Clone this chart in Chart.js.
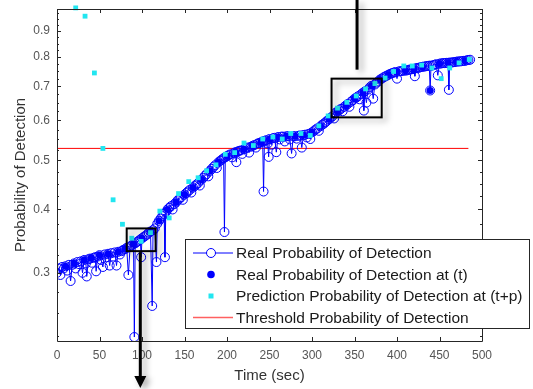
<!DOCTYPE html>
<html>
<head>
<meta charset="utf-8">
<script src="https://cdn.jsdelivr.net/npm/chart.js@4.4.1/dist/chart.umd.min.js"></script>
<style>
  body { margin: 0; background: #fff; }
  #wrap { width: 533px; height: 389px; }
</style>
</head>
<body>
<div id="wrap"><canvas id="myChart" width="533" height="389"></canvas></div>
<script>
// Real probability of detection (open circles joined by a line)
const realTime = [0,2,4,6,8,10,12,14,16,18,20,22,24,26,28,30,32,34,35,37,39,41,43,45,46,48,50,52,54,56,58,60,62,64,66,68,70,72,74,76,78,80,82,84,86,88,90,91,92,94,96,98,99,100,102,104,106,108,110,112,113,115,117,118,120,122,124,126,127,128,130,132,134,136,138,140,142,144,146,148,150,152,154,156,158,160,162,164,166,168,170,172,174,176,178,180,182,184,186,188,190,192,194,196,197,198,200,202,204,206,208,210,211,212,214,216,218,220,222,224,226,228,230,232,234,236,238,240,242,243,244,246,248,249,250,252,254,256,258,260,262,264,266,268,270,272,274,276,278,280,282,284,286,288,290,292,294,296,298,300,302,304,306,308,310,312,314,316,318,320,322,324,326,328,330,332,334,336,338,340,342,344,346,348,350,352,354,356,358,360,361,362,364,366,368,370,372,374,376,378,380,382,384,386,388,390,392,394,396,398,400,402,404,406,408,410,412,414,416,418,420,421,422,424,426,428,430,432,434,436,438,439,440,442,444,446,448,450,452,454,456,458,460,461,462,464,466,468,470,472,474,476,478,480,482,484,486];
const realProb = [0.300,0.306,0.297,0.308,0.306,0.309,0.303,0.311,0.289,0.311,0.313,0.306,0.315,0.312,0.316,0.300,0.318,0.313,0.295,0.319,0.320,0.314,0.321,0.322,0.302,0.323,0.325,0.318,0.308,0.326,0.322,0.327,0.310,0.328,0.323,0.329,0.310,0.330,0.326,0.331,0.333,0.334,0.336,0.297,0.338,0.340,0.342,0.224,0.343,0.345,0.347,0.349,0.322,0.351,0.353,0.355,0.357,0.360,0.362,0.258,0.364,0.367,0.315,0.375,0.380,0.384,0.388,0.392,0.322,0.395,0.400,0.403,0.406,0.400,0.410,0.413,0.417,0.420,0.423,0.418,0.428,0.431,0.434,0.437,0.432,0.442,0.445,0.448,0.451,0.446,0.458,0.462,0.466,0.470,0.465,0.477,0.481,0.485,0.489,0.483,0.496,0.499,0.502,0.505,0.361,0.507,0.510,0.512,0.514,0.507,0.517,0.519,0.496,0.520,0.522,0.523,0.515,0.526,0.528,0.530,0.518,0.532,0.534,0.536,0.530,0.540,0.541,0.543,0.545,0.434,0.546,0.548,0.540,0.508,0.551,0.537,0.553,0.554,0.519,0.556,0.550,0.557,0.557,0.545,0.558,0.558,0.550,0.516,0.558,0.558,0.552,0.559,0.560,0.530,0.561,0.562,0.555,0.564,0.551,0.568,0.571,0.575,0.578,0.572,0.584,0.588,0.591,0.595,0.599,0.603,0.607,0.611,0.605,0.621,0.625,0.628,0.632,0.625,0.638,0.642,0.646,0.638,0.653,0.657,0.662,0.665,0.669,0.660,0.676,0.680,0.627,0.684,0.650,0.690,0.697,0.702,0.662,0.706,0.712,0.716,0.722,0.725,0.729,0.732,0.735,0.738,0.741,0.743,0.745,0.747,0.725,0.749,0.750,0.751,0.752,0.752,0.753,0.755,0.756,0.757,0.758,0.733,0.760,0.761,0.762,0.764,0.765,0.766,0.767,0.768,0.769,0.687,0.769,0.770,0.772,0.774,0.736,0.776,0.777,0.778,0.778,0.779,0.779,0.689,0.780,0.780,0.781,0.782,0.783,0.784,0.784,0.785,0.786,0.786,0.788,0.789,0.790];

// Real probability of detection at (t) (filled dots)
const atTime = [10,20,32,40,50,60,72,80,90,100,110,120,130,140,150,160,170,180,190,200,210,220,230,240,250,260,270,280,290,300,310,320,330,340,350,360,370,380,390,400,410,420,430,439,450,460,470,480];
const atProb = [0.309,0.313,0.318,0.321,0.325,0.327,0.330,0.334,0.342,0.351,0.362,0.380,0.400,0.413,0.428,0.442,0.458,0.477,0.496,0.510,0.519,0.526,0.534,0.543,0.551,0.556,0.558,0.558,0.561,0.568,0.584,0.603,0.625,0.642,0.662,0.680,0.702,0.722,0.738,0.748,0.752,0.758,0.765,0.687,0.776,0.779,0.783,0.786];

// Prediction at (t+p) (cyan squares)
const predTime = [22,33,44,54,66,77,88,99,110,121,132,143,155,166,176,187,198,209,220,231,242,254,265,275,287,298,308,319,330,341,352,363,374,386,396,408,418,429,441,452,462,473,485];
const predProb = [1.0,0.963,0.744,0.528,0.418,0.374,0.351,0.346,0.360,0.397,0.385,0.430,0.454,0.462,0.477,0.490,0.514,0.518,0.541,0.535,0.551,0.556,0.551,0.565,0.565,0.560,0.585,0.612,0.634,0.651,0.670,0.692,0.709,0.727,0.749,0.768,0.768,0.771,0.761,0.725,0.761,0.779,0.791];

// Threshold
const thrTime = [0, 484];
const thrProb = [0.528, 0.528];

// axis ticks
const xTicks = [0,50,100,150,200,250,300,350,400,450,500];
const yTicks = [0.3,0.4,0.5,0.6,0.7,0.8,0.9];
const yMinor = [0.225,0.25,0.275,0.325,0.35,0.375,0.425,0.45,0.475,0.525,0.55,0.575,0.625,0.65,0.675,0.725,0.75,0.775,0.825,0.85,0.875,0.925,0.95,0.975];

const BLUE = '#0000ff';
const CYAN = '#22e6f0';
const RED = '#ff0000';
const FONT = "'Liberation Sans', Arial, sans-serif";

function pts(xs, ys) {
    return xs.map((t, i) => ({ x: t, y: ys[i] }));
}

// MATLAB-like box with inward ticks on all four sides
const framePlugin = {
    id: 'frame',
    afterDatasetsDraw(chart) {
        const { ctx, chartArea: a, scales } = chart;
        const x = scales.x, y = scales.y;
        ctx.save();
        ctx.strokeStyle = '#262626';
        ctx.lineWidth = 1;
        ctx.beginPath();
        ctx.rect(a.left + 0.5, a.top + 0.5, a.right - a.left, a.bottom - a.top);
        xTicks.forEach(v => {
            const px = Math.round(x.getPixelForValue(v)) + 0.5;
            ctx.moveTo(px, a.bottom); ctx.lineTo(px, a.bottom - 4);
            ctx.moveTo(px, a.top); ctx.lineTo(px, a.top + 4);
        });
        yTicks.forEach(v => {
            const py = Math.round(y.getPixelForValue(v)) + 0.5;
            ctx.moveTo(a.left, py); ctx.lineTo(a.left + 4, py);
            ctx.moveTo(a.right, py); ctx.lineTo(a.right - 4, py);
        });
        yMinor.forEach(v => {
            const py = Math.round(y.getPixelForValue(v)) + 0.5;
            ctx.moveTo(a.left, py); ctx.lineTo(a.left + 2, py);
            ctx.moveTo(a.right, py); ctx.lineTo(a.right - 2, py);
        });
        ctx.stroke();
        ctx.restore();
    }
};

// zoom boxes and arrows drawn on the figure
const notesPlugin = {
    id: 'notes',
    afterDraw(chart) {
        const { ctx, chartArea: a, scales } = chart;
        const x = scales.x, y = scales.y;
        ctx.save();
        ctx.shadowColor = 'rgba(0,0,0,0.35)';
        ctx.shadowBlur = 6;
        ctx.shadowOffsetX = 4;
        ctx.shadowOffsetY = 3;
        ctx.strokeStyle = '#000';
        ctx.fillStyle = '#000';

        // lower box and arrow going down
        const b1l = x.getPixelForValue(82), b1r = x.getPixelForValue(116);
        const b1t = y.getPixelForValue(0.367), b1b = y.getPixelForValue(0.331);
        ctx.lineWidth = 2;
        ctx.strokeRect(b1l, b1t, b1r - b1l, b1b - b1t);
        const ax = x.getPixelForValue(98);
        ctx.lineWidth = 3;
        ctx.beginPath();
        ctx.moveTo(ax, b1b + 1);
        ctx.lineTo(ax, a.bottom + 36);
        ctx.stroke();
        ctx.beginPath();
        ctx.moveTo(ax - 6, a.bottom + 35);
        ctx.lineTo(ax + 6, a.bottom + 35);
        ctx.lineTo(ax, a.bottom + 47);
        ctx.closePath();
        ctx.fill();

        // upper box and line going up
        const b2l = x.getPixelForValue(323), b2r = x.getPixelForValue(382);
        const b2t = y.getPixelForValue(0.725), b2b = y.getPixelForValue(0.608);
        ctx.lineWidth = 2;
        ctx.strokeRect(b2l, b2t, b2r - b2l, b2b - b2t);
        const tx = x.getPixelForValue(353);
        ctx.lineWidth = 3;
        ctx.beginPath();
        ctx.moveTo(tx, 0);
        ctx.lineTo(tx, b2t - 9);
        ctx.stroke();
        ctx.restore();
    }
};

// legend box in the lower right corner
const legendPlugin = {
    id: 'boxLegend',
    afterDraw(chart) {
        const { ctx } = chart;
        const ds = chart.data.datasets;
        const L = 185, T = 239, W = 344, H = 89;
        ctx.save();
        ctx.fillStyle = '#fff';
        ctx.fillRect(L, T, W, H);
        ctx.strokeStyle = '#262626';
        ctx.lineWidth = 1;
        ctx.strokeRect(L + 0.5, T + 0.5, W, H);
        ctx.font = '15.5px ' + FONT;
        ctx.textBaseline = 'middle';
        const sx = 211;
        ds.forEach((d, i) => {
            const cy = T + 14 + i * 21.5;
            if (i === 0) {
                ctx.strokeStyle = BLUE; ctx.lineWidth = 1;
                ctx.beginPath(); ctx.moveTo(193, cy); ctx.lineTo(233, cy); ctx.stroke();
                ctx.fillStyle = '#fff';
                ctx.beginPath(); ctx.arc(sx, cy, 4.5, 0, Math.PI * 2); ctx.fill(); ctx.stroke();
            } else if (i === 1) {
                ctx.fillStyle = BLUE;
                ctx.beginPath(); ctx.arc(sx, cy, 3.8, 0, Math.PI * 2); ctx.fill();
            } else if (i === 2) {
                ctx.fillStyle = CYAN;
                ctx.fillRect(sx - 2.5, cy - 2.5, 5, 5);
            } else {
                ctx.strokeStyle = '#ff6060'; ctx.lineWidth = 1.5;
                ctx.beginPath(); ctx.moveTo(193, cy); ctx.lineTo(233, cy); ctx.stroke();
            }
            ctx.fillStyle = '#1a1a1a';
            ctx.fillText(d.label, 236, cy + 1);
        });
        ctx.restore();
    }
};

MakeChart();

function MakeChart() {
    const ctx = document.getElementById('myChart');
    new Chart(ctx, {
        type: 'scatter',
        data: {
            datasets: [{
                label: 'Real Probability of Detection',
                data: pts(realTime, realProb),
                showLine: true,
                borderColor: BLUE,
                borderWidth: 1,
                pointStyle: 'circle',
                pointRadius: 4.5,
                pointBorderWidth: 1,
                pointBorderColor: BLUE,
                pointBackgroundColor: 'rgba(0,0,0,0)',
                order: 3
            }, {
                label: 'Real Probability of Detection at (t)',
                data: pts(atTime, atProb),
                pointStyle: 'circle',
                pointRadius: 3.6,
                pointBorderWidth: 0,
                pointBackgroundColor: BLUE,
                order: 2
            }, {
                label: 'Prediction Probability of Detection at (t+p)',
                data: pts(predTime, predProb),
                pointStyle: 'rect',
                pointRadius: 3.4,
                pointBorderWidth: 0,
                pointBackgroundColor: CYAN,
                clip: false,
                order: 1
            }, {
                label: 'Threshold Probability of Detection',
                data: pts(thrTime, thrProb),
                showLine: true,
                borderColor: RED,
                borderWidth: 1,
                pointRadius: 0,
                order: 4
            }]
        },
        options: {
            responsive: false,
            animation: false,
            events: [],
            layout: { padding: { left: 0, right: 51, top: 9, bottom: 0 } },
            plugins: {
                legend: { display: false },
                tooltip: { enabled: false }
            },
            scales: {
                x: {
                    type: 'linear',
                    min: 0,
                    max: 500,
                    afterFit: s => { s.height = 48; s.paddingLeft = 0; s.paddingRight = 0; },
                    afterBuildTicks: s => { s.ticks = xTicks.map(v => ({ value: v })); },
                    grid: { display: false, drawTicks: false },
                    border: { display: false },
                    ticks: {
                        padding: 7,
                        color: '#555',
                        font: { family: FONT, size: 12 },
                        maxRotation: 0,
                        callback: v => String(v)
                    },
                    title: {
                        display: true,
                        text: 'Time (sec)',
                        color: '#333',
                        font: { family: FONT, size: 15 },
                        padding: { top: 0, bottom: 4 }
                    }
                },
                y: {
                    type: 'logarithmic',
                    min: 0.223,
                    max: 0.995,
                    afterFit: s => { s.width = 57; s.paddingTop = 0; s.paddingBottom = 0; },
                    afterBuildTicks: s => { s.ticks = yTicks.map(v => ({ value: v })); },
                    grid: { display: false, drawTicks: false },
                    border: { display: false },
                    ticks: {
                        padding: 7,
                        color: '#555',
                        font: { family: FONT, size: 12 },
                        callback: v => Number(v).toFixed(1)
                    },
                    title: {
                        display: true,
                        text: 'Probability of Detection',
                        color: '#333',
                        font: { family: FONT, size: 15 },
                        padding: { top: 12, bottom: 0 }
                    }
                }
            }
        },
        plugins: [framePlugin, notesPlugin, legendPlugin]
    });
}
</script>
</body>
</html>
